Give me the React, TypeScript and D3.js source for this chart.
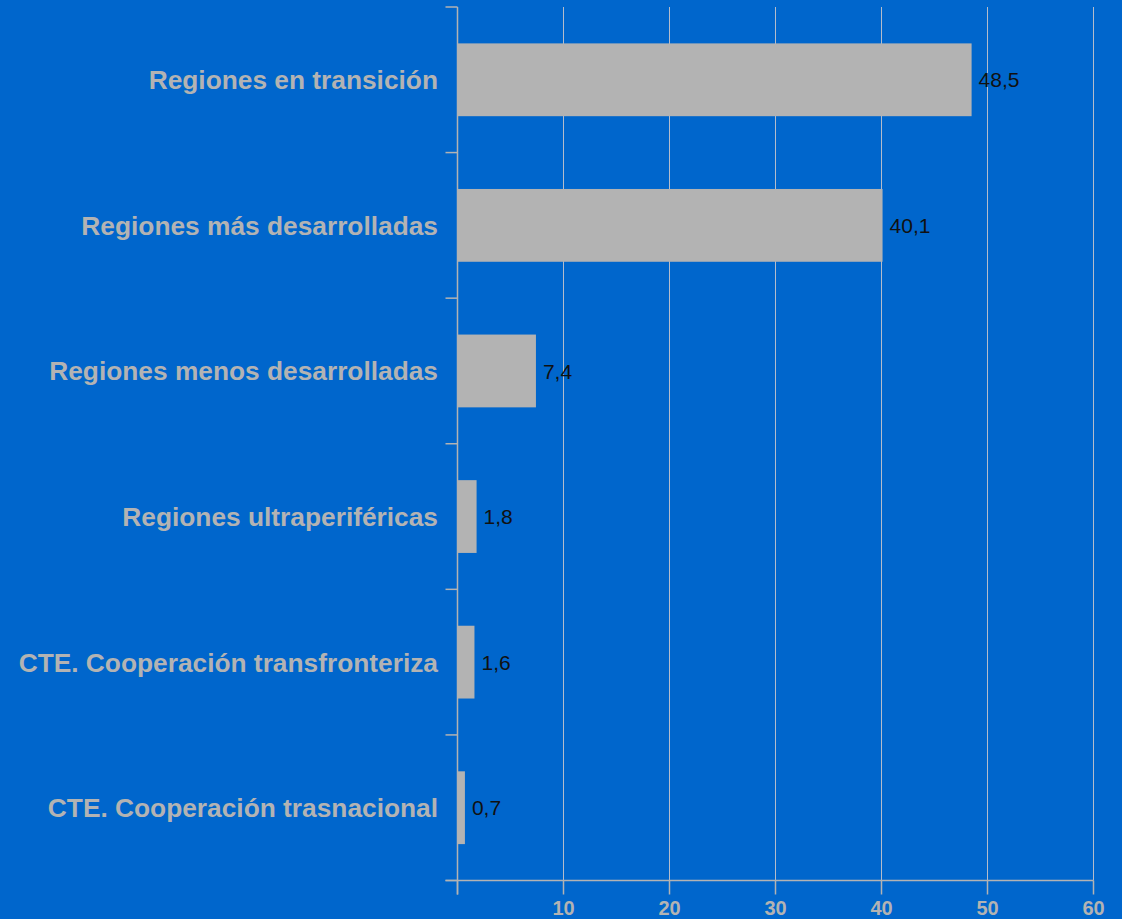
import React from "react";
import * as d3 from "d3";

const categories = [
  "Regiones en transición",
  "Regiones más desarrolladas",
  "Regiones menos desarrolladas",
  "Regiones ultraperiféricas",
  "CTE. Cooperación transfronteriza",
  "CTE. Cooperación trasnacional",
];
const values = [48.5, 40.1, 7.4, 1.8, 1.6, 0.7];
const xTicks = [0, 10, 20, 30, 40, 50, 60];

const W = 1122;
const H = 919;
const left = 457.5;
const right = 1093.5;
const top = 7;
const bottom = 880.5;

export default function App() {
  const x = d3.scaleLinear().domain([0, 60]).range([left, right]);
  const y = d3
    .scaleBand<string>()
    .domain(categories)
    .range([top, bottom])
    .paddingInner(0.5)
    .paddingOuter(0.25);
  const step = (bottom - top) / categories.length;
  const boundaries = d3.range(categories.length + 1).map((i) => top + i * step);
  const fmt = (v: number) => v.toFixed(1).replace(".", ",");
  const gray = "#b3b3b3";
  const grid = "#b4bccb";

  return (
    <svg
      width={W}
      height={H}
      style={{ position: "absolute", left: 0, top: 0, display: "block" }}
      fontFamily="'Liberation Sans', Arial, sans-serif"
    >
      <rect x={0} y={0} width={W} height={H} fill="#0066cc" />
      {xTicks
        .filter((t) => t > 0)
        .map((t) => (
          <line key={"g" + t} x1={x(t)} x2={x(t)} y1={top} y2={bottom} stroke={grid} strokeWidth={1} />
        ))}
      {categories.map((c, i) => (
        <rect key={c} x={x(0)} y={y(c)!} width={x(values[i]) - x(0)} height={y.bandwidth()} fill={gray} />
      ))}
      {/* axes */}
      <line x1={left} x2={left} y1={top} y2={bottom + 14} stroke={gray} strokeWidth={1.5} />
      <line x1={left - 12} x2={right} y1={bottom} y2={bottom} stroke={gray} strokeWidth={1.5} />
      {boundaries.map((b, i) => (
        <line key={"b" + i} x1={left - 12} x2={left} y1={b} y2={b} stroke={gray} strokeWidth={1.5} />
      ))}
      {xTicks.map((t) => (
        <line key={"t" + t} x1={x(t)} x2={x(t)} y1={bottom} y2={bottom + 14} stroke={gray} strokeWidth={1.5} />
      ))}
      {xTicks
        .filter((t) => t > 0)
        .map((t) => (
          <text
            key={"l" + t}
            x={x(t)}
            y={915}
            textAnchor="middle"
            fontSize={20}
            fontWeight="bold"
            fill={gray}
          >
            {t}
          </text>
        ))}
      {categories.map((c) => (
        <text
          key={"c" + c}
          x={438}
          y={y(c)! + y.bandwidth() / 2}
          dy="0.36em"
          textAnchor="end"
          fontSize={26.3}
          fontWeight="bold"
          fill={gray}
        >
          {c}
        </text>
      ))}
      {categories.map((c, i) => (
        <text
          key={"v" + c}
          x={x(values[i]) + 7}
          y={y(c)! + y.bandwidth() / 2}
          dy="0.36em"
          fontSize={21}
          fill="#111"
        >
          {fmt(values[i])}
        </text>
      ))}
    </svg>
  );
}
